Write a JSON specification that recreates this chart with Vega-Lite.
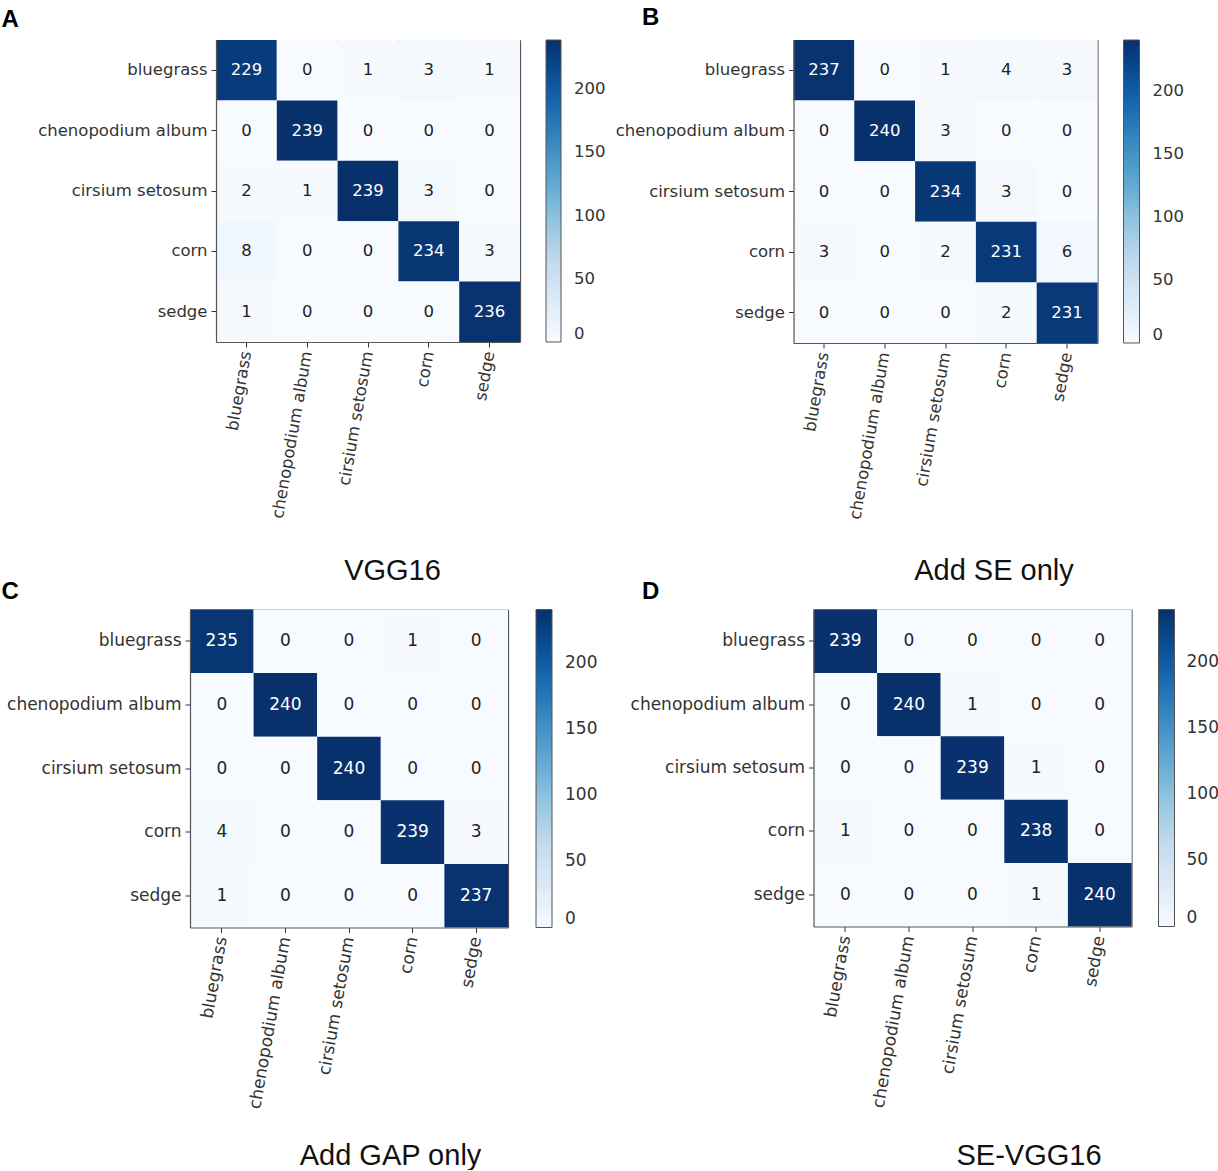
{
  "$schema": "https://vega.github.io/schema/vega-lite/v6.json",
  "padding": {"left": 0, "top": 5, "right": 0, "bottom": 0},
  "background": "white",
  "columns": 2,
  "align": "each",
  "spacing": {"row": -6.5, "column": 6.5},
  "resolve": {"scale": {"color": "independent", "x": "independent", "y": "independent"}, "legend": {"color": "independent"}},
  "config": {
    "view": {"stroke": null},
    "font": "DejaVu Sans",
    "axis": {"labelFont": "DejaVu Sans", "labelColor": "#333", "tickColor": "#333", "tickSize": 5, "domain": true, "domainColor": "#555", "domainWidth": 1.2, "grid": false, "labelPadding": 4, "labelOverlap": false},
    "legend": {"padding": 0, "labelFont": "DejaVu Sans", "labelColor": "#333", "gradientStrokeColor": "#555", "gradientStrokeWidth": 1, "labelOverlap": false}
  },
  "datasets": {
    "A": [
      {"actual": "bluegrass", "predicted": "bluegrass", "count": 229},
      {"actual": "bluegrass", "predicted": "chenopodium album", "count": 0},
      {"actual": "bluegrass", "predicted": "cirsium setosum", "count": 1},
      {"actual": "bluegrass", "predicted": "corn", "count": 3},
      {"actual": "bluegrass", "predicted": "sedge", "count": 1},
      {"actual": "chenopodium album", "predicted": "bluegrass", "count": 0},
      {"actual": "chenopodium album", "predicted": "chenopodium album", "count": 239},
      {"actual": "chenopodium album", "predicted": "cirsium setosum", "count": 0},
      {"actual": "chenopodium album", "predicted": "corn", "count": 0},
      {"actual": "chenopodium album", "predicted": "sedge", "count": 0},
      {"actual": "cirsium setosum", "predicted": "bluegrass", "count": 2},
      {"actual": "cirsium setosum", "predicted": "chenopodium album", "count": 1},
      {"actual": "cirsium setosum", "predicted": "cirsium setosum", "count": 239},
      {"actual": "cirsium setosum", "predicted": "corn", "count": 3},
      {"actual": "cirsium setosum", "predicted": "sedge", "count": 0},
      {"actual": "corn", "predicted": "bluegrass", "count": 8},
      {"actual": "corn", "predicted": "chenopodium album", "count": 0},
      {"actual": "corn", "predicted": "cirsium setosum", "count": 0},
      {"actual": "corn", "predicted": "corn", "count": 234},
      {"actual": "corn", "predicted": "sedge", "count": 3},
      {"actual": "sedge", "predicted": "bluegrass", "count": 1},
      {"actual": "sedge", "predicted": "chenopodium album", "count": 0},
      {"actual": "sedge", "predicted": "cirsium setosum", "count": 0},
      {"actual": "sedge", "predicted": "corn", "count": 0},
      {"actual": "sedge", "predicted": "sedge", "count": 236}
    ],
    "B": [
      {"actual": "bluegrass", "predicted": "bluegrass", "count": 237},
      {"actual": "bluegrass", "predicted": "chenopodium album", "count": 0},
      {"actual": "bluegrass", "predicted": "cirsium setosum", "count": 1},
      {"actual": "bluegrass", "predicted": "corn", "count": 4},
      {"actual": "bluegrass", "predicted": "sedge", "count": 3},
      {"actual": "chenopodium album", "predicted": "bluegrass", "count": 0},
      {"actual": "chenopodium album", "predicted": "chenopodium album", "count": 240},
      {"actual": "chenopodium album", "predicted": "cirsium setosum", "count": 3},
      {"actual": "chenopodium album", "predicted": "corn", "count": 0},
      {"actual": "chenopodium album", "predicted": "sedge", "count": 0},
      {"actual": "cirsium setosum", "predicted": "bluegrass", "count": 0},
      {"actual": "cirsium setosum", "predicted": "chenopodium album", "count": 0},
      {"actual": "cirsium setosum", "predicted": "cirsium setosum", "count": 234},
      {"actual": "cirsium setosum", "predicted": "corn", "count": 3},
      {"actual": "cirsium setosum", "predicted": "sedge", "count": 0},
      {"actual": "corn", "predicted": "bluegrass", "count": 3},
      {"actual": "corn", "predicted": "chenopodium album", "count": 0},
      {"actual": "corn", "predicted": "cirsium setosum", "count": 2},
      {"actual": "corn", "predicted": "corn", "count": 231},
      {"actual": "corn", "predicted": "sedge", "count": 6},
      {"actual": "sedge", "predicted": "bluegrass", "count": 0},
      {"actual": "sedge", "predicted": "chenopodium album", "count": 0},
      {"actual": "sedge", "predicted": "cirsium setosum", "count": 0},
      {"actual": "sedge", "predicted": "corn", "count": 2},
      {"actual": "sedge", "predicted": "sedge", "count": 231}
    ],
    "C": [
      {"actual": "bluegrass", "predicted": "bluegrass", "count": 235},
      {"actual": "bluegrass", "predicted": "chenopodium album", "count": 0},
      {"actual": "bluegrass", "predicted": "cirsium setosum", "count": 0},
      {"actual": "bluegrass", "predicted": "corn", "count": 1},
      {"actual": "bluegrass", "predicted": "sedge", "count": 0},
      {"actual": "chenopodium album", "predicted": "bluegrass", "count": 0},
      {"actual": "chenopodium album", "predicted": "chenopodium album", "count": 240},
      {"actual": "chenopodium album", "predicted": "cirsium setosum", "count": 0},
      {"actual": "chenopodium album", "predicted": "corn", "count": 0},
      {"actual": "chenopodium album", "predicted": "sedge", "count": 0},
      {"actual": "cirsium setosum", "predicted": "bluegrass", "count": 0},
      {"actual": "cirsium setosum", "predicted": "chenopodium album", "count": 0},
      {"actual": "cirsium setosum", "predicted": "cirsium setosum", "count": 240},
      {"actual": "cirsium setosum", "predicted": "corn", "count": 0},
      {"actual": "cirsium setosum", "predicted": "sedge", "count": 0},
      {"actual": "corn", "predicted": "bluegrass", "count": 4},
      {"actual": "corn", "predicted": "chenopodium album", "count": 0},
      {"actual": "corn", "predicted": "cirsium setosum", "count": 0},
      {"actual": "corn", "predicted": "corn", "count": 239},
      {"actual": "corn", "predicted": "sedge", "count": 3},
      {"actual": "sedge", "predicted": "bluegrass", "count": 1},
      {"actual": "sedge", "predicted": "chenopodium album", "count": 0},
      {"actual": "sedge", "predicted": "cirsium setosum", "count": 0},
      {"actual": "sedge", "predicted": "corn", "count": 0},
      {"actual": "sedge", "predicted": "sedge", "count": 237}
    ],
    "D": [
      {"actual": "bluegrass", "predicted": "bluegrass", "count": 239},
      {"actual": "bluegrass", "predicted": "chenopodium album", "count": 0},
      {"actual": "bluegrass", "predicted": "cirsium setosum", "count": 0},
      {"actual": "bluegrass", "predicted": "corn", "count": 0},
      {"actual": "bluegrass", "predicted": "sedge", "count": 0},
      {"actual": "chenopodium album", "predicted": "bluegrass", "count": 0},
      {"actual": "chenopodium album", "predicted": "chenopodium album", "count": 240},
      {"actual": "chenopodium album", "predicted": "cirsium setosum", "count": 1},
      {"actual": "chenopodium album", "predicted": "corn", "count": 0},
      {"actual": "chenopodium album", "predicted": "sedge", "count": 0},
      {"actual": "cirsium setosum", "predicted": "bluegrass", "count": 0},
      {"actual": "cirsium setosum", "predicted": "chenopodium album", "count": 0},
      {"actual": "cirsium setosum", "predicted": "cirsium setosum", "count": 239},
      {"actual": "cirsium setosum", "predicted": "corn", "count": 1},
      {"actual": "cirsium setosum", "predicted": "sedge", "count": 0},
      {"actual": "corn", "predicted": "bluegrass", "count": 1},
      {"actual": "corn", "predicted": "chenopodium album", "count": 0},
      {"actual": "corn", "predicted": "cirsium setosum", "count": 0},
      {"actual": "corn", "predicted": "corn", "count": 238},
      {"actual": "corn", "predicted": "sedge", "count": 0},
      {"actual": "sedge", "predicted": "bluegrass", "count": 0},
      {"actual": "sedge", "predicted": "chenopodium album", "count": 0},
      {"actual": "sedge", "predicted": "cirsium setosum", "count": 0},
      {"actual": "sedge", "predicted": "corn", "count": 1},
      {"actual": "sedge", "predicted": "sedge", "count": 240}
    ]
  },
  "concat": [
    {
      "width": 330, "height": 302,
      "data": {"name": "A"},
      "resolve": {"axis": {"x": "independent", "y": "independent"}},
      "layer": [
        {"mark": "rect", "encoding": {
          "x": {"field": "predicted", "type": "nominal", "sort": ["bluegrass", "chenopodium album", "cirsium setosum", "corn", "sedge"], "scale": {"range": [26, 330], "paddingInner": 0, "paddingOuter": 0},
            "axis": {"title": "VGG16", "labelAngle": -80, "labelAlign": "right", "labelBaseline": "middle", "labelFontSize": 16.5, "titleFont": "Liberation Sans", "titleFontSize": 29, "titleFontWeight": "normal", "titleColor": "#111", "titleX": 202, "titleY": 237.5, "titleAlign": "center", "titleBaseline": "alphabetic"}},
          "y": {"field": "actual", "type": "nominal", "sort": ["bluegrass", "chenopodium album", "cirsium setosum", "corn", "sedge"], "scale": {"paddingInner": 0, "paddingOuter": 0},
            "axis": {"offset": -26, "title": "A", "titleAngle": 0, "titleX": -215, "titleY": -14, "titleAlign": "left", "titleBaseline": "alphabetic", "titleFont": "Liberation Sans", "titleFontSize": 24, "titleFontWeight": "bold", "titleColor": "#000", "minExtent": 180, "maxExtent": 180, "labelFontSize": 16.5}},
          "color": {"field": "count", "type": "quantitative",
            "scale": {"domain": [0, 29.875, 59.75, 89.625, 119.5, 149.375, 179.25, 209.125, 239], "range": ["#f7fbff", "#deebf7", "#c6dbef", "#9ecae1", "#6baed6", "#4292c6", "#2171b5", "#08519c", "#08306b"], "interpolate": "rgb"},
            "legend": {"title": null, "orient": "right", "offset": 26, "gradientLength": 302, "gradientThickness": 15, "values": [0, 50, 100, 150, 200], "labelFontSize": 16.5, "labelOffset": 13}}}},
        {"mark": {"type": "text", "fontSize": 16.5, "font": "DejaVu Sans"}, "encoding": {
          "x": {"field": "predicted", "type": "nominal", "sort": ["bluegrass", "chenopodium album", "cirsium setosum", "corn", "sedge"], "axis": {"orient": "top", "labels": false, "ticks": false, "title": null, "minExtent": 0, "maxExtent": 0}},
          "y": {"field": "actual", "type": "nominal", "sort": ["bluegrass", "chenopodium album", "cirsium setosum", "corn", "sedge"], "axis": {"orient": "right", "labels": false, "ticks": false, "title": null, "minExtent": 0, "maxExtent": 0}},
          "text": {"field": "count", "type": "quantitative", "format": "d"},
          "color": {"condition": {"test": "datum.count > 120", "value": "white"}, "value": "#222"}}}
      ]
    },
    {
      "width": 304, "height": 303,
      "data": {"name": "B"},
      "resolve": {"axis": {"x": "independent", "y": "independent"}},
      "layer": [
        {"mark": "rect", "encoding": {
          "x": {"field": "predicted", "type": "nominal", "sort": ["bluegrass", "chenopodium album", "cirsium setosum", "corn", "sedge"], "scale": {"paddingInner": 0, "paddingOuter": 0},
            "axis": {"title": "Add SE only", "labelAngle": -80, "labelAlign": "right", "labelBaseline": "middle", "labelFontSize": 16.5, "titleFont": "Liberation Sans", "titleFontSize": 29, "titleFontWeight": "normal", "titleColor": "#111", "titleX": 200, "titleY": 236.5, "titleAlign": "center", "titleBaseline": "alphabetic"}},
          "y": {"field": "actual", "type": "nominal", "sort": ["bluegrass", "chenopodium album", "cirsium setosum", "corn", "sedge"], "scale": {"paddingInner": 0, "paddingOuter": 0},
            "axis": {"title": "B", "titleAngle": 0, "titleX": -152, "titleY": -16, "titleAlign": "left", "titleBaseline": "alphabetic", "titleFont": "Liberation Sans", "titleFontSize": 24, "titleFontWeight": "bold", "titleColor": "#000", "minExtent": 181, "maxExtent": 181, "labelFontSize": 16.5}},
          "color": {"field": "count", "type": "quantitative",
            "scale": {"domain": [0, 30, 60, 90, 120, 150, 180, 210, 240], "range": ["#f7fbff", "#deebf7", "#c6dbef", "#9ecae1", "#6baed6", "#4292c6", "#2171b5", "#08519c", "#08306b"], "interpolate": "rgb"},
            "legend": {"title": null, "orient": "right", "offset": 26, "gradientLength": 303, "gradientThickness": 16, "values": [0, 50, 100, 150, 200], "labelFontSize": 16.5, "labelOffset": 13}}}},
        {"mark": {"type": "text", "fontSize": 16.5, "font": "DejaVu Sans"}, "encoding": {
          "x": {"field": "predicted", "type": "nominal", "sort": ["bluegrass", "chenopodium album", "cirsium setosum", "corn", "sedge"], "axis": {"orient": "top", "labels": false, "ticks": false, "title": null, "minExtent": 0, "maxExtent": 0}},
          "y": {"field": "actual", "type": "nominal", "sort": ["bluegrass", "chenopodium album", "cirsium setosum", "corn", "sedge"], "axis": {"orient": "right", "labels": false, "ticks": false, "title": null, "minExtent": 0, "maxExtent": 0}},
          "text": {"field": "count", "type": "quantitative", "format": "d"},
          "color": {"condition": {"test": "datum.count > 120", "value": "white"}, "value": "#222"}}}
      ]
    },
    {
      "width": 318, "height": 318,
      "data": {"name": "C"},
      "resolve": {"axis": {"x": "independent", "y": "independent"}},
      "layer": [
        {"mark": "rect", "encoding": {
          "x": {"field": "predicted", "type": "nominal", "sort": ["bluegrass", "chenopodium album", "cirsium setosum", "corn", "sedge"], "scale": {"paddingInner": 0, "paddingOuter": 0},
            "axis": {"title": "Add GAP only", "labelAngle": -80, "labelAlign": "right", "labelBaseline": "middle", "labelFontSize": 17, "titleFont": "Liberation Sans", "titleFontSize": 29, "titleFontWeight": "normal", "titleColor": "#111", "titleX": 200, "titleY": 236.5, "titleAlign": "center", "titleBaseline": "alphabetic"}},
          "y": {"field": "actual", "type": "nominal", "sort": ["bluegrass", "chenopodium album", "cirsium setosum", "corn", "sedge"], "scale": {"paddingInner": 0, "paddingOuter": 0},
            "axis": {"title": "C", "titleAngle": 0, "titleX": -189, "titleY": -11, "titleAlign": "left", "titleBaseline": "alphabetic", "titleFont": "Liberation Sans", "titleFontSize": 24, "titleFontWeight": "bold", "titleColor": "#000", "minExtent": 190, "maxExtent": 190, "labelFontSize": 17}},
          "color": {"field": "count", "type": "quantitative",
            "scale": {"domain": [0, 30, 60, 90, 120, 150, 180, 210, 240], "range": ["#f7fbff", "#deebf7", "#c6dbef", "#9ecae1", "#6baed6", "#4292c6", "#2171b5", "#08519c", "#08306b"], "interpolate": "rgb"},
            "legend": {"title": null, "orient": "right", "offset": 28, "gradientLength": 318, "gradientThickness": 16, "values": [0, 50, 100, 150, 200], "labelFontSize": 17, "labelOffset": 13}}}},
        {"mark": {"type": "text", "fontSize": 17, "font": "DejaVu Sans"}, "encoding": {
          "x": {"field": "predicted", "type": "nominal", "sort": ["bluegrass", "chenopodium album", "cirsium setosum", "corn", "sedge"], "axis": {"orient": "top", "labels": false, "ticks": false, "title": null, "minExtent": 0, "maxExtent": 0}},
          "y": {"field": "actual", "type": "nominal", "sort": ["bluegrass", "chenopodium album", "cirsium setosum", "corn", "sedge"], "axis": {"orient": "right", "labels": false, "ticks": false, "title": null, "minExtent": 0, "maxExtent": 0}},
          "text": {"field": "count", "type": "quantitative", "format": "d"},
          "color": {"condition": {"test": "datum.count > 120", "value": "white"}, "value": "#222"}}}
      ]
    },
    {
      "width": 338, "height": 317,
      "data": {"name": "D"},
      "resolve": {"axis": {"x": "independent", "y": "independent"}},
      "layer": [
        {"mark": "rect", "encoding": {
          "x": {"field": "predicted", "type": "nominal", "sort": ["bluegrass", "chenopodium album", "cirsium setosum", "corn", "sedge"], "scale": {"range": [20, 338], "paddingInner": 0, "paddingOuter": 0},
            "axis": {"title": "SE-VGG16", "labelAngle": -80, "labelAlign": "right", "labelBaseline": "middle", "labelFontSize": 17, "titleFont": "Liberation Sans", "titleFontSize": 29, "titleFontWeight": "normal", "titleColor": "#111", "titleX": 235, "titleY": 237.5, "titleAlign": "center", "titleBaseline": "alphabetic"}},
          "y": {"field": "actual", "type": "nominal", "sort": ["bluegrass", "chenopodium album", "cirsium setosum", "corn", "sedge"], "scale": {"paddingInner": 0, "paddingOuter": 0},
            "axis": {"offset": -20, "title": "D", "titleAngle": 0, "titleX": -172, "titleY": -11, "titleAlign": "left", "titleBaseline": "alphabetic", "titleFont": "Liberation Sans", "titleFontSize": 24, "titleFontWeight": "bold", "titleColor": "#000", "minExtent": 201, "maxExtent": 201, "labelFontSize": 17}},
          "color": {"field": "count", "type": "quantitative",
            "scale": {"domain": [0, 30, 60, 90, 120, 150, 180, 210, 240], "range": ["#f7fbff", "#deebf7", "#c6dbef", "#9ecae1", "#6baed6", "#4292c6", "#2171b5", "#08519c", "#08306b"], "interpolate": "rgb"},
            "legend": {"title": null, "orient": "right", "offset": 27, "gradientLength": 317, "gradientThickness": 16, "values": [0, 50, 100, 150, 200], "labelFontSize": 17, "labelOffset": 12}}}},
        {"mark": {"type": "text", "fontSize": 17, "font": "DejaVu Sans"}, "encoding": {
          "x": {"field": "predicted", "type": "nominal", "sort": ["bluegrass", "chenopodium album", "cirsium setosum", "corn", "sedge"], "axis": {"orient": "top", "labels": false, "ticks": false, "title": null, "minExtent": 0, "maxExtent": 0}},
          "y": {"field": "actual", "type": "nominal", "sort": ["bluegrass", "chenopodium album", "cirsium setosum", "corn", "sedge"], "axis": {"orient": "right", "labels": false, "ticks": false, "title": null, "minExtent": 0, "maxExtent": 0}},
          "text": {"field": "count", "type": "quantitative", "format": "d"},
          "color": {"condition": {"test": "datum.count > 120", "value": "white"}, "value": "#222"}}}
      ]
    }
  ]
}
